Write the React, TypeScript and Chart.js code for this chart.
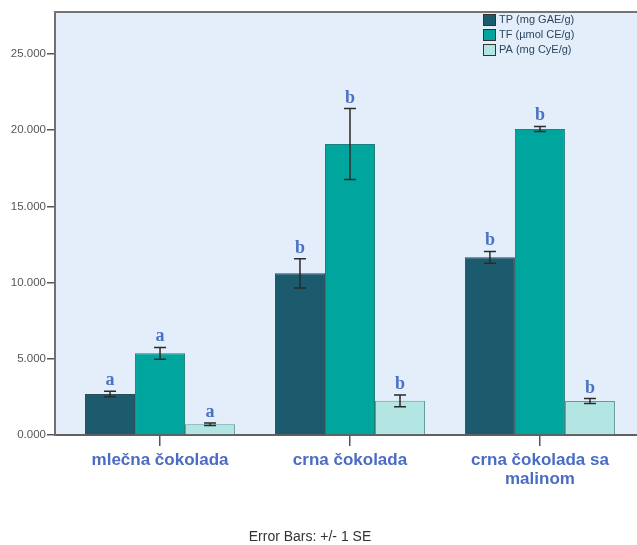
import React, { useEffect, useRef } from "react";
import { Chart, registerables } from "chart.js";

Chart.register(...registerables);

// Categories (multi-line labels on the x axis)
const CATEGORIES: string[][] = [
  ["mlečna čokolada"],
  ["crna čokolada"],
  ["crna čokolada sa", "malinom"],
];

// Series means
const TP = [2.69, 10.61, 11.66];
const TF = [5.36, 19.09, 20.08];
const PA = [0.7, 2.24, 2.23];

// Standard errors (+/- 1 SE)
const TP_SE = [0.18, 0.96, 0.39];
const TF_SE = [0.39, 2.33, 0.17];
const PA_SE = [0.08, 0.39, 0.16];

// Significance letters above each bar
const TP_LETTERS = ["a", "b", "b"];
const TF_LETTERS = ["a", "b", "b"];
const PA_LETTERS = ["a", "b", "b"];

const SERIES_NAMES = ["TP (mg GAE/g)", "TF (µmol CE/g)", "PA (mg CyE/g)"];
const SERIES_COLORS = ["#1c5a6e", "#00a59e", "#b3e5e2"];
const SERIES_BORDERS = ["#2c4c58", "#1f7f7a", "#5f9c9a"];

const FOOTNOTE = "Error Bars: +/- 1 SE";

const SANS = "'Liberation Sans', Arial, sans-serif";
const SERIF = "'Liberation Serif', 'Times New Roman', serif";

const toPoints = (vals: number[]) => vals.map((v, i) => ({ x: i + 1, y: v }));

const plotFrame = {
  id: "plotFrame",
  beforeDraw(chart: any) {
    const { ctx, chartArea } = chart;
    ctx.save();
    ctx.fillStyle = "#e3eefa";
    ctx.fillRect(chartArea.left, chartArea.top, chartArea.right - chartArea.left, chartArea.bottom - chartArea.top);
    ctx.restore();
  },
  afterDraw(chart: any) {
    const { ctx, chartArea } = chart;
    ctx.save();
    ctx.strokeStyle = "#747474";
    ctx.lineWidth = 2;
    ctx.beginPath();
    ctx.moveTo(chartArea.left - 1, chartArea.top);
    ctx.lineTo(chartArea.right, chartArea.top);
    ctx.stroke();

    // Legend in the upper-right corner of the plot
    const lx = 483;
    const ly = 14;
    const step = 15;
    chart.data.datasets.forEach((ds: any, i: number) => {
      const y = ly + i * step;
      ctx.fillStyle = ds.backgroundColor;
      ctx.fillRect(lx, y, 12, 11);
      ctx.strokeStyle = "#333";
      ctx.lineWidth = 1;
      ctx.strokeRect(lx + 0.5, y + 0.5, 12, 11);
      ctx.fillStyle = "#2c4660";
      ctx.font = `11px ${SANS}`;
      ctx.textAlign = "left";
      ctx.textBaseline = "middle";
      ctx.fillText(ds.label, lx + 16, y + 6);
    });

    // Footnote
    ctx.fillStyle = "#333";
    ctx.font = `14px ${SANS}`;
    ctx.textAlign = "center";
    ctx.textBaseline = "alphabetic";
    ctx.fillText(FOOTNOTE, 310, 541);
    ctx.restore();
  },
};

const errorBars = {
  id: "errorBars",
  afterDatasetsDraw(chart: any) {
    const { ctx } = chart;
    const yScale = chart.scales.y;
    ctx.save();
    chart.data.datasets.forEach((ds: any, di: number) => {
      const meta = chart.getDatasetMeta(di);
      meta.data.forEach((bar: any, i: number) => {
        const v = ds.data[i].y;
        const se = ds.errors[i];
        const x = bar.x;
        const yTop = yScale.getPixelForValue(v + se);
        const yBot = yScale.getPixelForValue(v - se);
        ctx.strokeStyle = "#2a2a2a";
        ctx.lineWidth = 1.5;
        ctx.beginPath();
        ctx.moveTo(x, yTop);
        ctx.lineTo(x, yBot);
        ctx.moveTo(x - 6, yTop);
        ctx.lineTo(x + 6, yTop);
        ctx.moveTo(x - 6, yBot);
        ctx.lineTo(x + 6, yBot);
        ctx.stroke();

        ctx.fillStyle = "#4a72c4";
        ctx.font = `bold 18px ${SERIF}`;
        ctx.textAlign = "center";
        ctx.textBaseline = "alphabetic";
        ctx.fillText(ds.letters[i], x, yTop - 6);
      });
    });
    ctx.restore();
  },
};

export default function App() {
  const canvasRef = useRef<HTMLCanvasElement | null>(null);

  useEffect(() => {
    if (!canvasRef.current) return;
    const values = [TP, TF, PA];
    const errors = [TP_SE, TF_SE, PA_SE];
    const letters = [TP_LETTERS, TF_LETTERS, PA_LETTERS];

    const chart = new Chart(canvasRef.current, {
      type: "bar",
      data: {
        datasets: values.map((vals, k) => ({
          label: SERIES_NAMES[k],
          data: toPoints(vals),
          errors: errors[k],
          letters: letters[k],
          backgroundColor: SERIES_COLORS[k],
          borderColor: SERIES_BORDERS[k],
          borderWidth: 1,
          categoryPercentage: 0.79,
          barPercentage: 1.0,
        })) as any,
      },
      options: {
        animation: false,
        responsive: false,
        maintainAspectRatio: false,
        layout: { padding: { left: 0, right: 0, top: 12, bottom: 0 } },
        plugins: {
          legend: { display: false },
          tooltip: { enabled: false },
        },
        scales: {
          x: {
            type: "linear",
            min: 0.447,
            max: 3.511,
            offset: false,
            grid: {
              offset: false,
              drawOnChartArea: false,
              drawTicks: true,
              tickLength: 11,
              color: "#555",
              lineWidth: 1.5,
            },
            border: { display: true, color: "#606060", width: 2 },
            ticks: {
              stepSize: 1,
              includeBounds: false,
              autoSkip: false,
              maxRotation: 0,
              padding: 5,
              color: "#4a6cc4",
              font: { family: SANS, size: 17, weight: "bold", lineHeight: 1.12 },
              callback: (v: any) => {
                const idx = Math.round(Number(v)) - 1;
                return Number.isInteger(Number(v)) && CATEGORIES[idx] ? CATEGORIES[idx] : "";
              },
            },
            afterFit: (scale: any) => {
              scale.height = 110;
            },
          },
          y: {
            min: 0,
            max: 27.76,
            grid: {
              drawOnChartArea: false,
              drawTicks: true,
              tickLength: 8,
              color: "#555",
              lineWidth: 1.5,
            },
            border: { display: true, color: "#707070", width: 2 },
            ticks: {
              stepSize: 5,
              includeBounds: false,
              padding: 1,
              color: "#555",
              font: { family: SANS, size: 11.5 },
              callback: (v: any) => Number(v).toFixed(3),
            },
            afterFit: (scale: any) => {
              scale.width = 55;
            },
          },
        },
      } as any,
      plugins: [plotFrame, errorBars],
    });

    return () => chart.destroy();
  }, []);

  return (
    <div style={{ position: "absolute", left: 0, top: 0, width: 637, height: 545, background: "#fff" }}>
      <canvas ref={canvasRef} width={637} height={545} style={{ display: "block" }} />
    </div>
  );
}
